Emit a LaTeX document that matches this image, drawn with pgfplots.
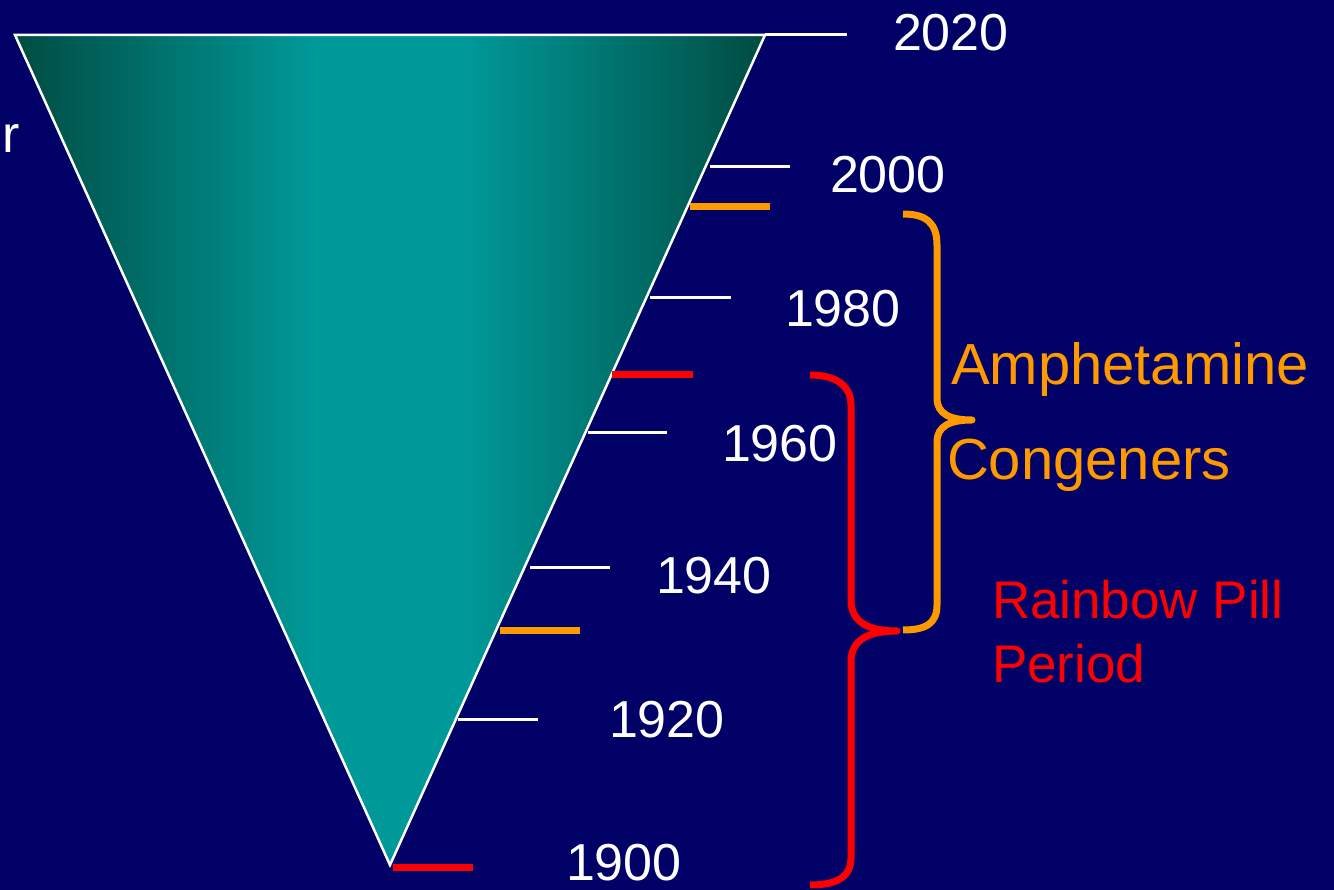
\documentclass[border=0pt]{standalone}
\usepackage{pgfplots}
\pgfplotsset{compat=1.18}
\usepackage{fontspec}
\setmainfont{Liberation Sans}

\definecolor{navy}{RGB}{0,0,102}
\definecolor{tealdark}{RGB}{0,76,66}
\definecolor{teallight}{RGB}{0,153,153}
\definecolor{amph}{RGB}{255,153,0}
\definecolor{rainbow}{RGB}{255,0,0}

% dark edges, flat light band in the middle
\pgfdeclarehorizontalshading{funnel}{100bp}{color(0bp)=(tealdark); color(25bp)=(tealdark);
  color(45bp)=(teallight); color(55bp)=(teallight); color(75bp)=(tealdark); color(100bp)=(tealdark)}

\newcommand\yearfont{\fontsize{52}{60}\selectfont}
\newcommand\amphfont{\fontsize{58}{66}\selectfont}
\newcommand\redfont{\fontsize{53}{61}\selectfont}

\tikzset{lbl/.style={inner sep=0pt, outer sep=0pt, anchor=base west}}

\begin{document}
\begin{tikzpicture}
\fill[navy] (0,0) rectangle (1334pt,890pt);
\begin{axis}[
  at={(0,0)}, anchor=south west,
  scale only axis, width=1334pt, height=890pt,
  xmin=0, xmax=1334, ymin=0, ymax=890,
  y dir=reverse,
  hide axis,
]
% funnel
\addplot[draw=white, line width=2.5pt, shading=funnel] coordinates {(15,35) (765,35) (390,865)} -- cycle;

% decade ticks
\addplot[white, line width=3pt] coordinates {(765,35) (847,35)};
\addplot[white, line width=3pt] coordinates {(710,167) (790,167)};
\addplot[white, line width=3pt] coordinates {(650,298) (731,298)};
\addplot[white, line width=3pt] coordinates {(588,433) (667,433)};
\addplot[white, line width=3pt] coordinates {(530,567) (610,567)};
\addplot[white, line width=3pt] coordinates {(458,719) (538,719)};

% period markers
\addplot[amph, line width=7pt] coordinates {(690,207) (770,207)};
\addplot[amph, line width=7pt] coordinates {(500,630) (580,630)};
\addplot[rainbow, line width=7pt] coordinates {(612,375) (693,375)};
\addplot[rainbow, line width=7pt] coordinates {(393,867) (473,867)};

% braces
\draw[amph, line width=7pt, line join=round]
  (903,214) .. controls (925,214) and (937,222) .. (937,245) -- (937,398)
  .. controls (937,414) and (950,420) .. (972,420)
  .. controls (950,420) and (937,426) .. (937,442) -- (937,605)
  .. controls (937,624) and (925,630) .. (903,630);
\draw[rainbow, line width=7pt, line join=round]
  (810,375) .. controls (835,375) and (851,385) .. (851,405) -- (851,600)
  .. controls (851,622) and (868,631) .. (897,631)
  .. controls (868,631) and (851,640) .. (851,662) -- (851,858)
  .. controls (851,878) and (835,885) .. (810,885);

% labels
\node[lbl, text=white, font=\yearfont] at (893,51) {2020};
\node[lbl, text=white, font=\yearfont] at (830,193) {2000};
\node[lbl, text=white, font=\yearfont] at (785,327) {1980};
\node[lbl, text=white, font=\yearfont] at (722,462) {1960};
\node[lbl, text=white, font=\yearfont] at (656,593) {1940};
\node[lbl, text=white, font=\yearfont] at (609,737) {1920};
\node[lbl, text=white, font=\yearfont] at (566,880) {1900};
\node[lbl, text=white, font=\yearfont, anchor=base east] at (20,153) {r};

\node[lbl, text=amph, font=\amphfont] at (951,385) {Amphetamine};
\node[lbl, text=amph, font=\amphfont] at (947,479) {Congeners};
\node[lbl, text=rainbow, font=\redfont] at (992,618) {Rainbow Pill};
\node[lbl, text=rainbow, font=\redfont] at (992,682) {Period};
\end{axis}
\pgfresetboundingbox
\useasboundingbox (0,0) rectangle (1334pt,890pt);
\end{tikzpicture}
\end{document}
